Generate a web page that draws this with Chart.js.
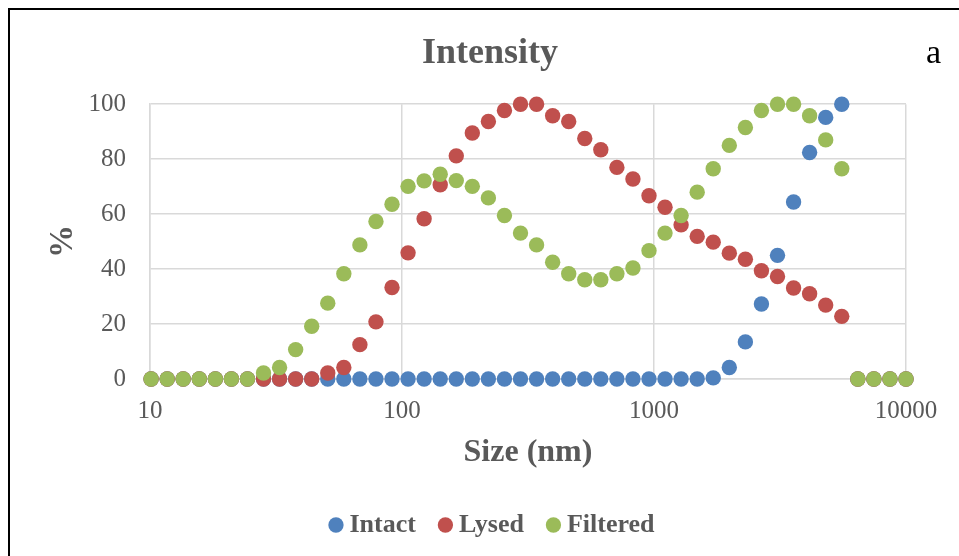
<!DOCTYPE html>
<html>
<head>
<meta charset="utf-8">
<script src="https://cdn.jsdelivr.net/npm/chart.js@4/dist/chart.umd.min.js"></script>
<style>
  html, body { margin: 0; padding: 0; background: #fff; overflow: hidden; }
  #wrap { position: relative; width: 959px; height: 556px; overflow: hidden; }
  #frame { position: absolute; left: 8px; top: 8px; width: 2000px; height: 2000px;
           border-left: 2px solid #000; border-top: 2px solid #000; }
  #box { position: absolute; left: 0; top: 0; width: 980px; height: 556px; }
  #tag { position: absolute; left: 926px; top: 35px; font: 34px "Liberation Serif", serif;
         line-height: 1; color: #000; }
</style>
</head>
<body>
<div id="wrap">
  <div id="frame"></div>
  <div id="box"><canvas id="chart"></canvas></div>
  <div id="tag">a</div>
</div>
<script>
// size bins (nm)
const sizes = [10.10, 11.70, 13.54, 15.69, 18.17, 21.04, 24.36, 28.21, 32.67, 37.84,
  43.82, 50.75, 58.77, 68.06, 78.82, 91.28, 105.7, 122.4, 141.8, 164.2,
  190.1, 220.2, 255.0, 295.3, 342.0, 396.1, 458.7, 531.2, 615.1, 712.4,
  825.0, 955.4, 1106, 1281, 1484, 1718, 1990, 2305, 2669, 3091,
  3580, 4145, 4801, 5560, 6439, 7456, 8635, 10000];

const intact = [0, 0, 0, 0, 0, 0, 0, 0, 0, 0,
  0, 0, 0, 0, 0, 0, 0, 0, 0, 0,
  0, 0, 0, 0, 0, 0, 0, 0, 0, 0,
  0, 0, 0, 0, 0, 0.4, 4.2, 13.5, 27.3, 45.0,
  64.4, 82.4, 95.2, 100, 0, 0, 0, 0];

const lysed = [0, 0, 0, 0, 0, 0, 0, 0, 0, 0,
  0, 2.2, 4.2, 12.5, 20.8, 33.3, 45.9, 58.3, 70.7, 81.2,
  89.5, 93.7, 97.7, 100, 100, 95.8, 93.7, 87.5, 83.4, 77.0,
  72.8, 66.7, 62.5, 56.1, 51.9, 49.8, 45.8, 43.6, 39.4, 37.3,
  33.1, 31.0, 26.9, 22.8, 0, 0, 0, 0];

const filtered = [0, 0, 0, 0, 0, 0, 0, 2.2, 4.2, 10.7,
  19.2, 27.6, 38.3, 48.8, 57.3, 63.6, 70.1, 72.1, 74.5, 72.2,
  70.1, 65.9, 59.5, 53.1, 48.8, 42.5, 38.3, 36.1, 36.1, 38.3,
  40.4, 46.7, 53.1, 59.5, 68.0, 76.5, 85.0, 91.5, 97.7, 100,
  100, 95.8, 87.0, 76.5, 0, 0, 0, 0];

const xTicks = [10, 100, 1000, 10000];

const grey = '#595959';
const gridCol = '#d9d9d9';
const serif = '"Liberation Serif", "Times New Roman", serif';

const pts = vals => sizes.map((x, i) => ({ x, y: vals[i] }));

function series(label, vals, color, order) {
  return {
    label, data: pts(vals), order,
    backgroundColor: color, borderColor: color, borderWidth: 0,
    pointRadius: 7.7, pointHoverRadius: 7.7, pointStyle: 'circle',
    showLine: false, clip: false
  };
}

// nudge the legend a bit to the right, like the original
const legendShift = {
  id: 'legendShift',
  afterLayout(chart) {
    chart.legend.left += 5;
    chart.legend.right += 5;
  }
};

new Chart(document.getElementById('chart'), {
  type: 'scatter',
  data: {
    datasets: [
      series('Intact', intact, '#4f81bd', 3),
      series('Lysed', lysed, '#c0504d', 2),
      series('Filtered', filtered, '#9bbb59', 1)
    ]
  },
  plugins: [legendShift],
  options: {
    responsive: true,
    maintainAspectRatio: false,
    animation: false,
    layout: { padding: { left: 0, right: 0, top: 0, bottom: 8 } },
    plugins: {
      title: {
        display: true, text: 'Intensity', color: grey,
        font: { family: serif, size: 36, weight: 'bold' },
        padding: { top: 32, bottom: 29 }
      },
      legend: {
        position: 'bottom',
        labels: {
          usePointStyle: true, boxWidth: 1, boxHeight: 10.8, padding: 29,
          color: grey, font: { family: serif, size: 26, weight: 'bold' },
          sort: (a, b) => a.datasetIndex - b.datasetIndex
        }
      },
      tooltip: { enabled: false }
    },
    scales: {
      x: {
        type: 'logarithmic', min: 10, max: 10000,
        afterBuildTicks: axis => { axis.ticks = xTicks.map(v => ({ value: v })); },
        afterFit: axis => { axis.height = 104; },
        ticks: {
          color: grey, padding: 17, maxRotation: 0,
          font: { family: serif, size: 25 },
          callback: v => String(v)
        },
        grid: { color: gridCol, lineWidth: 1.5, drawTicks: false },
        border: { color: gridCol, width: 1.5 },
        title: {
          display: true, text: 'Size (nm)', color: grey,
          font: { family: serif, size: 32, weight: 'bold' },
          padding: { top: 0, bottom: 11 }
        }
      },
      y: {
        min: 0, max: 100,
        afterFit: axis => { axis.width = 150; },
        ticks: {
          stepSize: 20, color: grey, padding: 24,
          font: { family: serif, size: 25 }
        },
        grid: { color: gridCol, lineWidth: 1.5, drawTicks: false },
        border: { color: gridCol, width: 1.5 },
        title: {
          display: true, text: '%', color: grey,
          font: { family: serif, size: 33, weight: 'bold' },
          padding: { top: 44, bottom: 0 }
        }
      },
      yR: {
        type: 'linear', position: 'right', display: true,
        afterFit: axis => { axis.width = 74; },
        ticks: { display: false },
        grid: { display: false },
        border: { display: false }
      }
    }
  }
});
</script>
</body>
</html>
